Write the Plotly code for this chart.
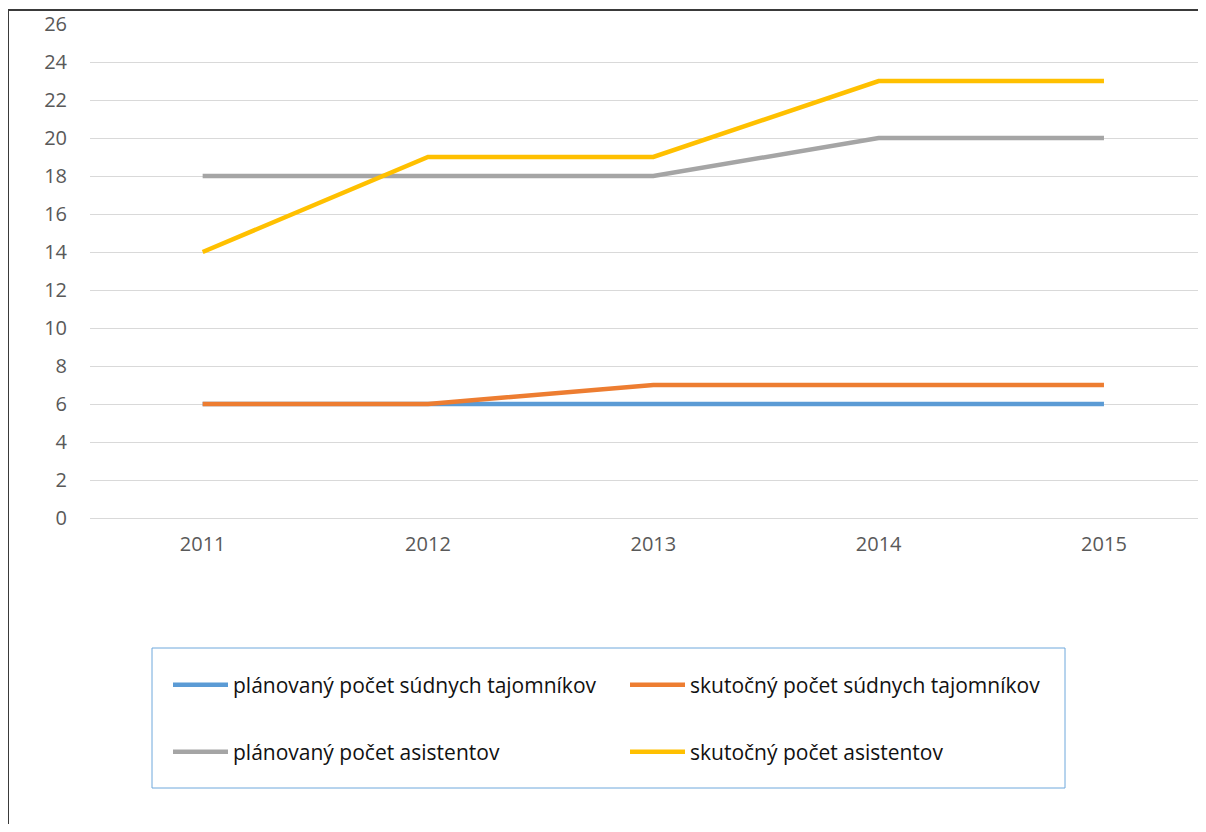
import plotly.graph_objects as go

years = ["2011", "2012", "2013", "2014", "2015"]
planned_secretaries = [6, 6, 6, 6, 6]
actual_secretaries = [6, 6, 7, 7, 7]
planned_assistants = [18, 18, 18, 20, 20]
actual_assistants = [14, 19, 19, 23, 23]

names = [
    "plánovaný počet súdnych tajomníkov",
    "skutočný počet súdnych tajomníkov",
    "plánovaný počet asistentov",
    "skutočný počet asistentov",
]
colors = ["#5B9BD5", "#ED7D31", "#A5A5A5", "#FFC000"]
series = [planned_secretaries, actual_secretaries, planned_assistants, actual_assistants]
legends = ["legend", "legend", "legend2", "legend2"]

OFF = 8  # page body margin
W, H = 1190, 816
ML = 90 - OFF
MT = 24 - OFF
MB = H - (518 - OFF)
MR = 0
PW, PH = W - ML - MR, H - MT - MB

def px(x):
    # screen x -> paper
    return (x - OFF - ML) / PW

def py(y):
    # screen y -> paper
    return (H - MB - (y - OFF)) / PH

fig = go.Figure()
xs = list(range(len(years)))
for name, col, vals, lg in zip(names, colors, series, legends):
    fig.add_trace(go.Scatter(x=xs, y=vals, name=name, mode="lines",
                             line=dict(color=col, width=4.5), legend=lg))

legend_common = dict(orientation="h", xanchor="left", yanchor="middle",
                     font=dict(family="Open Sans", size=21, color="#111111"),
                     bgcolor="rgba(0,0,0,0)", borderwidth=0, itemwidth=55,
                     entrywidth=387, entrywidthmode="pixels", traceorder="normal")

unit = 225.25
fig.update_layout(
    width=W, height=H,
    margin=dict(l=ML, r=MR, t=MT, b=MB, autoexpand=False),
    paper_bgcolor="white", plot_bgcolor="white",
    showlegend=True,
    legend=dict(x=px(168), y=py(685), **legend_common),
    legend2=dict(x=px(168), y=py(752), **legend_common),
    xaxis=dict(range=[-0.5, 4 + (W + OFF - 1104) / unit], tickmode="array", tickvals=xs, ticktext=years,
               showgrid=False, zeroline=False, showline=False, ticks="",
               tickfont=dict(family="Open Sans", size=20, color="#595959"),
               ticklabelstandoff=12),
    yaxis=dict(range=[0, 26], dtick=2, showgrid=True, gridcolor="#D9D9D9", gridwidth=1,
               zeroline=True, zerolinecolor="#D9D9D9", zerolinewidth=1, showline=False, ticks="",
               tickfont=dict(family="Open Sans", size=20, color="#595959"),
               ticklabelstandoff=22),
    shapes=[
        dict(type="rect", xref="paper", yref="paper", x0=px(152), x1=px(1065), y0=py(788), y1=py(648),
             line=dict(color="#6FA8DC", width=1), fillcolor="rgba(0,0,0,0)", layer="below"),
        dict(type="rect", xref="paper", yref="paper", x0=px(8), x1=px(1300), y0=py(950), y1=py(10),
             line=dict(color="#3a3a3a", width=2), fillcolor="rgba(0,0,0,0)", layer="below"),
    ],
)

fig.write_html("out.html")
